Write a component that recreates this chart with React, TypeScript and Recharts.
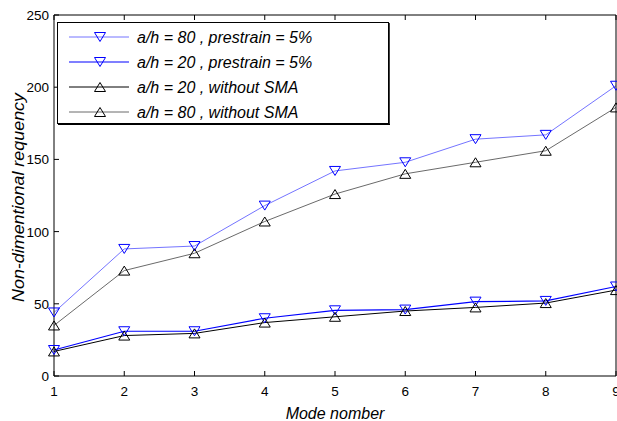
import { LineChart, Line, XAxis, YAxis, Legend } from "recharts";

const modes = [1, 2, 3, 4, 5, 6, 7, 8, 9];
const pre80 = [44, 88, 90, 118, 142, 148, 164, 167, 201];
const pre20 = [18, 31, 31, 40, 45.5, 46, 51.5, 52, 62];
const noSma20 = [17, 28, 29.5, 37, 41, 45, 47.5, 50.5, 59.5];
const noSma80 = [35, 73, 85, 107, 126, 140, 148, 156, 186];
const yTicks = [0, 50, 100, 150, 200, 250];

const data = modes.map((m, i) => ({
  mode: m,
  pre80: pre80[i],
  pre20: pre20[i],
  noSma20: noSma20[i],
  noSma80: noSma80[i],
}));

const series = [
  { key: "pre80", name: "a/h = 80 , prestrain = 5%", line: "#7474ff", mark: "#0000ff", down: true, w: 1 },
  { key: "pre20", name: "a/h = 20 , prestrain = 5%", line: "#0000ff", mark: "#0000ff", down: true, w: 1.2 },
  { key: "noSma20", name: "a/h = 20 , without SMA", line: "#000000", mark: "#000000", down: false, w: 1 },
  { key: "noSma80", name: "a/h = 80 , without SMA", line: "#6a6a6a", mark: "#000000", down: false, w: 1 },
];

const font = "'Liberation Sans', Arial, sans-serif";

const triPoints = (cx: number, cy: number, down: boolean) => {
  const hw = 5.5;
  const hh = 4.5;
  return down
    ? `${cx - hw},${cy - hh} ${cx + hw},${cy - hh} ${cx},${cy + hh}`
    : `${cx - hw},${cy + hh} ${cx + hw},${cy + hh} ${cx},${cy - hh}`;
};

const makeDot = (color: string, down: boolean) => (props: any) => {
  const { cx, cy, index } = props;
  if (cx == null || cy == null) return <g key={index} />;
  return (
    <polygon
      key={index}
      points={triPoints(cx, cy, down)}
      fill="none"
      stroke={color}
      strokeWidth={1}
    />
  );
};

const BottomTick = (props: any) => {
  const { x, y, payload } = props;
  return (
    <g>
      <line x1={x} y1={y} x2={x} y2={y - 5} stroke="#000" />
      <text x={x} y={y + 20} textAnchor="middle" fontSize={13.5} fontFamily={font} fill="#000">
        {payload.value}
      </text>
    </g>
  );
};

const TopTick = (props: any) => {
  const { x, y } = props;
  return <line x1={x} y1={y} x2={x} y2={y + 5} stroke="#000" />;
};

const LeftTick = (props: any) => {
  const { x, y, payload } = props;
  return (
    <g>
      <line x1={x} y1={y} x2={x + 5} y2={y} stroke="#000" />
      <text x={x - 5} y={y + 5} textAnchor="end" fontSize={13.5} fontFamily={font} fill="#000">
        {payload.value}
      </text>
    </g>
  );
};

const RightTick = (props: any) => {
  const { x, y } = props;
  return <line x1={x} y1={y} x2={x - 5} y2={y} stroke="#000" />;
};

const LegendBox = () => (
  <svg width={333} height={103} style={{ display: "block" }}>
    <rect x={0.5} y={0.5} width={331} height={101} fill="#fff" stroke="#000" />
    <line x1={332} y1={1} x2={332} y2={103} stroke="#000" strokeWidth={1.5} />
    <line x1={1} y1={102.5} x2={333} y2={102.5} stroke="#000" strokeWidth={1.5} />
    {series.map((s, i) => {
      const cy = 15 + i * 25;
      return (
        <g key={s.key}>
          <line x1={12} y1={cy} x2={72} y2={cy} stroke={s.line} strokeWidth={s.w} />
          <polygon points={triPoints(43, cy, s.down)} fill="none" stroke={s.mark} />
          <text x={80} y={cy + 6} fontSize={16} fontStyle="italic" fontFamily={font} fill="#000">
            {s.name}
          </text>
        </g>
      );
    })}
  </svg>
);

const YLabel = (props: any) => {
  const { viewBox } = props;
  const cx = viewBox.x + 18;
  const cy = viewBox.y + viewBox.height / 2 + 2;
  return (
    <text
      x={cx}
      y={cy}
      transform={`rotate(-90 ${cx} ${cy})`}
      textAnchor="middle"
      dominantBaseline="central"
      fontSize={16}
      fontStyle="italic"
      fontFamily={font}
      textLength={209}
      lengthAdjust="spacingAndGlyphs"
      fill="#000"
    >
      Non-dimentional requency
    </text>
  );
};

const XLabel = (props: any) => {
  const { viewBox } = props;
  const cx = viewBox.x + viewBox.width / 2;
  return (
    <text
      x={cx}
      y={viewBox.y + 43}
      textAnchor="middle"
      fontSize={16}
      fontStyle="italic"
      fontFamily={font}
      fill="#000"
    >
      Mode nomber
    </text>
  );
};

export default function App() {
  return (
    <div style={{ position: "absolute", left: 0, top: 0, width: 617, height: 421, background: "#fff", overflow: "hidden" }}>
      <LineChart width={617} height={421} data={data} margin={{ top: 14, right: 0, bottom: 0, left: 0 }}>
        <XAxis
          dataKey="mode"
          type="number"
          domain={[1, 9]}
          ticks={modes}
          height={45}
          tickSize={0}
          tickMargin={0}
          tickLine={false}
          axisLine={{ stroke: "#000" }}
          tick={<BottomTick />}
          interval={0}
          label={<XLabel />}
        />
        <XAxis
          xAxisId="top"
          orientation="top"
          dataKey="mode"
          type="number"
          domain={[1, 9]}
          ticks={modes}
          height={1}
          tickSize={0}
          tickMargin={0}
          tickLine={false}
          axisLine={{ stroke: "#000" }}
          tick={<TopTick />}
          interval={0}
        />
        <YAxis
          type="number"
          domain={[0, 250]}
          ticks={yTicks}
          width={54}
          tickSize={0}
          tickMargin={0}
          tickLine={false}
          axisLine={{ stroke: "#000" }}
          tick={<LeftTick />}
          interval={0}
          label={<YLabel />}
        />
        <YAxis
          yAxisId="right"
          orientation="right"
          type="number"
          domain={[0, 250]}
          ticks={yTicks}
          width={1}
          tickSize={0}
          tickMargin={0}
          tickLine={false}
          axisLine={{ stroke: "#000" }}
          tick={<RightTick />}
          interval={0}
        />
        <Legend
          layout="vertical"
          align="center"
          verticalAlign="middle"
          content={<LegendBox />}
          wrapperStyle={{ position: "absolute", left: 57, top: 22, width: 333, height: 103 }}
        />
        {series.map((s) => (
          <Line
            key={s.key}
            dataKey={s.key}
            name={s.name}
            type="linear"
            stroke={s.line}
            strokeWidth={s.w}
            dot={makeDot(s.mark, s.down)}
            activeDot={false}
            isAnimationActive={false}
          />
        ))}
      </LineChart>
    </div>
  );
}
